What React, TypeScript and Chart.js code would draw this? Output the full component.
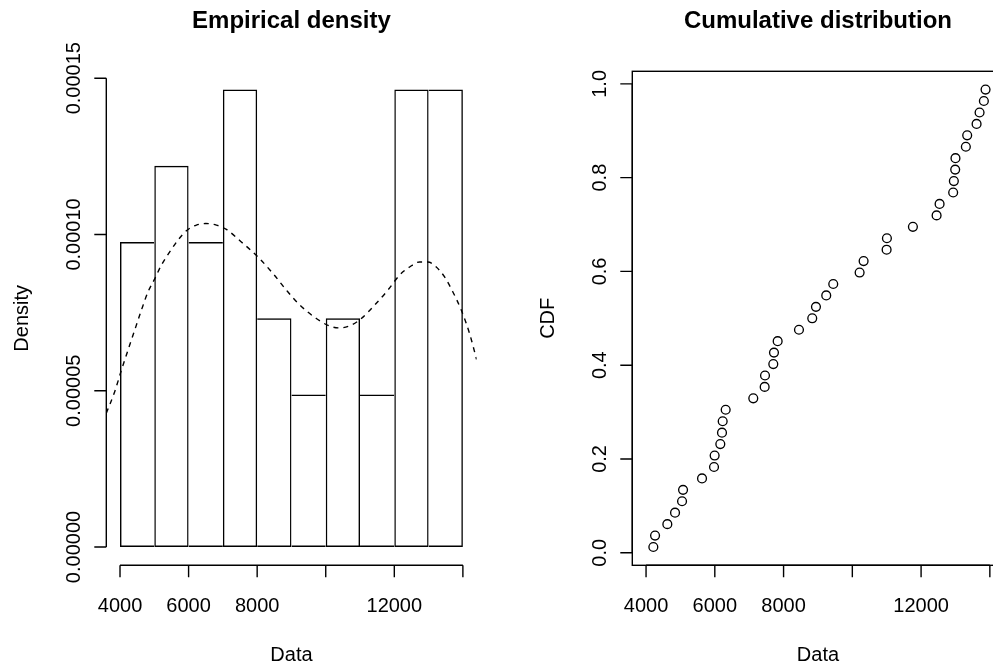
import React, { useEffect, useRef } from "react";
import { Chart, registerables } from "chart.js";

Chart.register(...registerables);

const FONT = '"Liberation Sans", Arial, Helvetica, sans-serif';

// ---- Histogram (left panel) ----
const histBinCenters = [4500, 5500, 6500, 7500, 8500, 9500, 10500, 11500, 12500, 13500];
const histDensity = [
  0.00009756, 0.00012195, 0.00009756, 0.00014634, 0.00007317,
  0.00004878, 0.00007317, 0.00004878, 0.00014634, 0.00014634,
];

// Dashed kernel density curve
const densityX = [
  3600, 3845, 4041, 4233, 4429, 4624, 4816, 5012, 5207, 5449, 5691, 5936, 6227, 6499,
  6810, 7102, 7539, 8023, 8461, 8851, 9219, 9726, 10114, 10405, 10746, 11038, 11426,
  11813, 12155, 12446, 12738, 12980, 13224, 13466, 13708, 13953, 14195, 14400,
];
const densityY = [
  4.28e-5, 4.97e-5, 5.66e-5, 6.3e-5, 6.94e-5, 7.58e-5, 8.16e-5, 8.58e-5, 9.02e-5, 9.44e-5,
  9.82e-5, 10.12e-5, 10.3e-5, 10.35e-5, 10.3e-5, 10.16e-5, 9.76e-5, 9.28e-5, 8.75e-5,
  8.22e-5, 7.77e-5, 7.31e-5, 7.07e-5, 7.01e-5, 7.1e-5, 7.31e-5, 7.74e-5, 8.22e-5, 8.7e-5,
  8.96e-5, 9.12e-5, 9.12e-5, 8.96e-5, 8.64e-5, 8.16e-5, 7.58e-5, 6.83e-5, 6.0e-5,
];

// ---- Empirical CDF (right panel) ----
const cdfData = [
  4212, 4262, 4619, 4843, 5047, 5076, 5628, 5977, 5995, 6160, 6209, 6229, 6316, 7119,
  7450, 7460, 7701, 7721, 7828, 8448, 8834, 8942, 9241, 9445, 10212, 10328, 10997, 11006,
  11762, 12451, 12538, 12933, 12953, 12992, 13000, 13302, 13341, 13614, 13701, 13826, 13875,
];
const cdfProb = [
  0.0122, 0.0366, 0.061, 0.0854, 0.1098, 0.1341, 0.1585, 0.1829, 0.2073, 0.2317, 0.2561,
  0.2805, 0.3049, 0.3293, 0.3537, 0.378, 0.4024, 0.4268, 0.4512, 0.4756, 0.5, 0.5244,
  0.5488, 0.5732, 0.5976, 0.622, 0.6463, 0.6707, 0.6951, 0.7195, 0.7439, 0.7683, 0.7927,
  0.8171, 0.8415, 0.8659, 0.8902, 0.9146, 0.939, 0.9634, 0.9878,
];

// ---- Ticks ----
const xTickValues = [4000, 6000, 8000, 10000, 12000, 14000];
const xTickLabels = ["4000", "6000", "8000", "", "12000", ""];
const densityTickValues = [0, 0.00005, 0.0001, 0.00015];
const densityTickLabels = ["0.00000", "0.00005", "0.00010", "0.00015"];
const cdfTickValues = [0, 0.2, 0.4, 0.6, 0.8, 1.0];
const cdfTickLabels = ["0.0", "0.2", "0.4", "0.6", "0.8", "1.0"];

const LW = 1.4;

const rAxesPlugin = {
  id: "rAxes",
  afterDraw(chart: any, _args: any, opts: any) {
    const { ctx, chartArea: a, scales } = chart;
    const xs = scales.x;
    const ys = scales.y;
    ctx.save();
    ctx.strokeStyle = "#000";
    ctx.fillStyle = "#000";
    ctx.lineWidth = LW;
    ctx.setLineDash([]);

    if (opts.box) {
      ctx.strokeRect(a.left, a.top, a.right - a.left, a.bottom - a.top);
    }

    // x axis
    const xp = opts.xTicks.map((v: number) => xs.getPixelForValue(v));
    ctx.beginPath();
    ctx.moveTo(xp[0], a.bottom);
    ctx.lineTo(xp[xp.length - 1], a.bottom);
    xp.forEach((p: number) => {
      ctx.moveTo(p, a.bottom);
      ctx.lineTo(p, a.bottom + 12);
    });
    // y axis
    const yp = opts.yTicks.map((v: number) => ys.getPixelForValue(v));
    ctx.moveTo(a.left, yp[0]);
    ctx.lineTo(a.left, yp[yp.length - 1]);
    yp.forEach((p: number) => {
      ctx.moveTo(a.left, p);
      ctx.lineTo(a.left - 12, p);
    });
    ctx.stroke();

    ctx.font = `20px ${FONT}`;
    ctx.textAlign = "center";
    ctx.textBaseline = "alphabetic";
    xp.forEach((p: number, i: number) => {
      if (opts.xLabels[i]) ctx.fillText(opts.xLabels[i], p, a.bottom + 46.3);
    });
    yp.forEach((p: number, i: number) => {
      ctx.save();
      ctx.translate(a.left - 26.5, p);
      ctx.rotate(-Math.PI / 2);
      ctx.fillText(opts.yLabels[i], 0, 0);
      ctx.restore();
    });

    // axis titles
    const cx = (a.left + a.right) / 2;
    const cy = (a.top + a.bottom) / 2;
    ctx.fillText(opts.xTitle, cx, a.bottom + 95.2);
    ctx.save();
    ctx.translate(a.left - 78.5, cy);
    ctx.rotate(-Math.PI / 2);
    ctx.fillText(opts.yTitle, 0, 0);
    ctx.restore();

    // main title
    ctx.font = `bold 24px ${FONT}`;
    ctx.fillText(opts.title, cx, 27.5);
    ctx.restore();
  },
};

function histBorder(ctx: any) {
  const i = ctx.dataIndex;
  const h = histDensity;
  const left = i === 0 || h[i] > h[i - 1] ? LW : 0;
  const right = i === h.length - 1 || h[i] >= h[i + 1] ? LW : 0;
  return { top: LW, bottom: LW, left, right };
}

export default function App() {
  const leftRef = useRef<HTMLCanvasElement | null>(null);
  const rightRef = useRef<HTMLCanvasElement | null>(null);

  useEffect(() => {
    const left = new Chart(leftRef.current as HTMLCanvasElement, {
      type: "bar",
      data: {
        datasets: [
          {
            type: "bar",
            data: histBinCenters.map((x, i) => ({ x, y: histDensity[i] })),
            backgroundColor: "rgba(0,0,0,0)",
            borderColor: "#000",
            borderWidth: histBorder as any,
            borderSkipped: false,
            inflateAmount: 0,
            barPercentage: 1,
            categoryPercentage: 1,
            order: 2,
          } as any,
          {
            type: "line",
            data: densityX.map((x, i) => ({ x, y: densityY[i] })),
            borderColor: "#000",
            borderWidth: LW,
            borderDash: [5, 5],
            pointRadius: 0,
            fill: false,
            cubicInterpolationMode: "monotone",
            order: 1,
          } as any,
        ],
      },
      options: {
        responsive: false,
        animation: false,
        events: [],
        layout: { padding: { left: 106.3, right: 20.4, top: 71.3, bottom: 102.7 } },
        scales: {
          x: {
            type: "linear",
            min: 3600,
            max: 14400,
            offset: false,
            display: false,
            afterBuildTicks: (axis: any) => {
              axis.ticks = xTickValues.map((v) => ({ value: v }));
            },
          },
          y: {
            type: "linear",
            min: -0.00000585,
            max: 0.0001522,
            display: false,
          },
        },
        plugins: {
          legend: { display: false },
          tooltip: { enabled: false },
          rAxes: {
            xTicks: xTickValues,
            xLabels: xTickLabels,
            yTicks: densityTickValues,
            yLabels: densityTickLabels,
            title: "Empirical density",
            xTitle: "Data",
            yTitle: "Density",
            box: false,
          },
        } as any,
      },
      plugins: [rAxesPlugin],
    });

    const right = new Chart(rightRef.current as HTMLCanvasElement, {
      type: "scatter",
      data: {
        datasets: [
          {
            data: cdfData.map((x, i) => ({ x, y: cdfProb[i] })),
            pointRadius: 4.4,
            pointBorderWidth: 1.35,
            pointBorderColor: "#000",
            pointBackgroundColor: "rgba(0,0,0,0)",
            showLine: false,
          },
        ],
      },
      options: {
        responsive: false,
        animation: false,
        events: [],
        layout: { padding: { left: 135.3, right: 13.4, top: 71.3, bottom: 102.7 } },
        scales: {
          x: { type: "linear", min: 3600, max: 14400, display: false },
          y: { type: "linear", min: -0.0268, max: 1.0268, display: false },
        },
        plugins: {
          legend: { display: false },
          tooltip: { enabled: false },
          rAxes: {
            xTicks: xTickValues,
            xLabels: xTickLabels,
            yTicks: cdfTickValues,
            yLabels: cdfTickLabels,
            title: "Cumulative distribution",
            xTitle: "Data",
            yTitle: "CDF",
            box: true,
          },
        } as any,
      },
      plugins: [rAxesPlugin],
    });

    return () => {
      left.destroy();
      right.destroy();
    };
  }, []);

  return (
    <div
      style={{
        position: "fixed",
        left: 0,
        top: 0,
        width: 993,
        height: 668,
        overflow: "hidden",
        background: "#fff",
      }}
    >
      <canvas
        ref={leftRef}
        width={497}
        height={668}
        style={{ position: "absolute", left: 0, top: 0, width: 497, height: 668 }}
      />
      <canvas
        ref={rightRef}
        width={520}
        height={668}
        style={{ position: "absolute", left: 497, top: 0, width: 520, height: 668 }}
      />
    </div>
  );
}
